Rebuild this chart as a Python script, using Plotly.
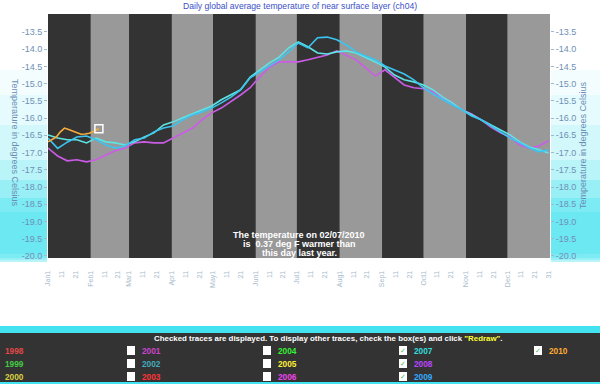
import plotly.graph_objects as go

# ---------------- data ----------------
days = list(range(0, 365, 7))  # day of year (0 = Jan 1)

t2007 = [-16.49, -16.58, -16.63, -16.63, -16.72, -16.58, -16.69, -16.72, -16.78, -16.69,
         -16.55, -16.43, -16.20, -16.11, -15.99, -15.88, -15.76, -15.65, -15.47, -15.33,
         -15.18, -14.81, -14.60, -14.40, -14.23, -13.96, -13.79, -13.93, -14.11, -14.14,
         -14.08, -14.05, -14.11, -14.23, -14.37, -14.52, -14.75, -14.89, -14.95, -15.04,
         -15.18, -15.39, -15.56, -15.76, -15.91, -16.05, -16.20, -16.34, -16.49, -16.69,
         -16.84, -16.92, -17.01]

t2008 = [-16.87, -17.10, -17.24, -17.21, -17.27, -17.21, -17.07, -16.95, -16.87, -16.72,
         -16.69, -16.72, -16.72, -16.58, -16.43, -16.29, -16.05, -15.85, -15.71, -15.53,
         -15.33, -15.12, -14.80, -14.52, -14.37, -14.37, -14.37, -14.31, -14.25, -14.17,
         -14.05, -14.17, -14.31, -14.54, -14.78, -14.60, -14.83, -15.04, -15.12, -15.15,
         -15.24, -15.42, -15.59, -15.76, -15.88, -16.05, -16.26, -16.43, -16.55, -16.78,
         -16.87, -16.81, -16.66]

t2009 = [-16.58, -16.88, -16.70, -16.55, -16.52, -16.63, -16.78, -16.87, -16.81, -16.63,
         -16.58, -16.40, -16.29, -16.23, -16.05, -15.91, -15.82, -15.71, -15.56, -15.39,
         -15.18, -14.83, -14.66, -14.49, -14.31, -14.08, -13.82, -13.96, -13.67, -13.65,
         -13.73, -13.88, -14.08, -14.20, -14.31, -14.49, -14.60, -14.72, -14.89, -15.12,
         -15.30, -15.47, -15.62, -15.76, -15.94, -16.05, -16.23, -16.40, -16.58, -16.72,
         -16.87, -16.98, -16.92]

days2010 = [0, 3, 6, 9, 12, 15, 18, 21, 24, 27, 30, 33, 37]
t2010 = [-16.69, -16.62, -16.55, -16.40, -16.29, -16.33, -16.38, -16.44, -16.47, -16.46,
         -16.44, -16.39, -16.31]

month_names = ["Jan", "Feb", "Mar", "Apr", "May", "Jun", "Jul", "Aug", "Sep", "Oct", "Nov", "Dec"]
month_lengths = [31, 28, 31, 30, 31, 30, 31, 31, 30, 31, 30, 31]

y_ticks = [-20.0, -19.5, -19.0, -18.5, -18.0, -17.5, -17.0, -16.5, -16.0, -15.5, -15.0, -14.5, -14.0, -13.5]

message_lines = ["The temperature on 02/07/2010", "is  0.37 deg F warmer than", "this day last year."]

legend_rows = [
    ["1998", "2001", "2004", "2007", "2010"],
    ["1999", "2002", "2005", "2008", None],
    ["2000", "2003", "2006", "2009", None],
]
legend_colors = {
    "1998": "#e04848", "1999": "#44cc44", "2000": "#d8d040",
    "2001": "#cc44cc", "2002": "#44aabb", "2003": "#ff3333",
    "2004": "#33ee33", "2005": "#ffee33", "2006": "#ee44ee",
    "2007": "#33dddd", "2008": "#bb44ff", "2009": "#33aaff",
    "2010": "#ffaa33",
}
checked = {"2007", "2008", "2009", "2010"}

# ---------------- helpers (pixel -> paper) ----------------
L, R, T, B = 48, 550, 14, 258
W, H = R - L, B - T


def px(x):
    return (x - L) / W


def py(y):
    return (B - y) / H


fig = go.Figure()

line_w = 1.6
fig.add_trace(go.Scatter(x=days, y=t2008, mode="lines", line=dict(color="#cc5ce8", width=line_w), showlegend=False))
fig.add_trace(go.Scatter(x=days, y=t2007, mode="lines", line=dict(color="#5ee4e4", width=line_w), showlegend=False))
fig.add_trace(go.Scatter(x=days, y=t2009, mode="lines", line=dict(color="#3cc4f0", width=line_w), showlegend=False))
fig.add_trace(go.Scatter(x=days2010, y=t2010, mode="lines", line=dict(color="#f7ad3c", width=line_w), showlegend=False))
fig.add_trace(go.Scatter(x=[days2010[-1]], y=[t2010[-1]], mode="markers", yaxis="y2",
                         marker=dict(symbol="square-open", size=8, color="white", line=dict(width=1.5, color="white")),
                         showlegend=False))

shapes = []
# month bands
start = 0
for i, ml in enumerate(month_lengths):
    shapes.append(dict(type="rect", xref="x", yref="paper", x0=start, x1=start + ml, y0=0, y1=1,
                       fillcolor="#333333" if i % 2 == 0 else "#999999", line=dict(width=0), layer="below"))
    start += ml


def glow(x0, x1, y0, y1, a):
    shapes.append(dict(type="rect", xref="paper", yref="paper", x0=px(x0), x1=px(x1), y0=py(y1), y1=py(y0),
                       fillcolor="rgba(60,225,240,%.3f)" % a, line=dict(width=0), layer="below"))


for (a, b) in [(0, 47), (551, 600)]:
    glow(a, b, 70, 262, 0.06)
    glow(a, b, 95, 262, 0.08)
    glow(a, b, 125, 262, 0.10)
    glow(a, b, 160, 262, 0.18)
    glow(a, b, 180, 260, 0.25)
    glow(a, b, 198, 258, 0.30)
    glow(a, b, 212, 254, 0.25)

# bottom panel
shapes.append(dict(type="rect", xref="paper", yref="paper", x0=px(0), x1=px(600), y0=py(384), y1=py(326),
                   fillcolor="#42e2f0", line=dict(width=0), layer="above"))
shapes.append(dict(type="rect", xref="paper", yref="paper", x0=px(0), x1=px(600), y0=py(382), y1=py(333),
                   fillcolor="#333333", line=dict(width=0), layer="above"))

annotations = []
# title
annotations.append(dict(xref="paper", yref="paper", x=px(300), y=py(6.5), xanchor="center", yanchor="middle",
                        text="Daily global average temperature of near surface layer (ch04)", showarrow=False,
                        font=dict(family="Liberation Sans, Arial", size=8.6, color="#3a50c8")))
# axis titles
annotations.append(dict(xref="paper", yref="paper", x=px(8), y=py(143), textangle=90, showarrow=False,
                        text="Temperature in degrees Celsius",
                        font=dict(family="Liberation Sans, Arial", size=9, color="#6a8db5")))
annotations.append(dict(xref="paper", yref="paper", x=px(590), y=py(145), textangle=-90, showarrow=False,
                        text="Temperature in degrees Celsius",
                        font=dict(family="Liberation Sans, Arial", size=9, color="#6a8db5")))
# in-plot message
for k, line in enumerate(message_lines):
    annotations.append(dict(xref="paper", yref="paper", x=px(299), y=py(234.5 + 9 * k), xanchor="center",
                            yanchor="middle", showarrow=False, text=line, borderpad=0,
                            font=dict(family="Liberation Sans, Arial", size=9, color="white", weight="bold")))
# bottom header
annotations.append(dict(xref="paper", yref="paper", x=px(328), y=py(338.5), xanchor="center", yanchor="middle",
                        showarrow=False,
                        text="Checked traces are displayed. To display other traces, check the box(es) and click "
                             "<span style='color:#ffff33'>\"Redraw\"</span>.",
                        font=dict(family="Liberation Sans, Arial", size=7.9, color="white", weight="bold")))

col_label_x = [3, 140, 276, 412, 547]
row_y = [350.5, 363.5, 376.5]
for r, row in enumerate(legend_rows):
    for c, yr in enumerate(row):
        if yr is None:
            continue
        if c > 0:
            bx = col_label_x[c] - 13
            shapes.append(dict(type="rect", xref="paper", yref="paper", x0=px(bx), x1=px(bx + 8),
                               y0=py(row_y[r] + 4.5), y1=py(row_y[r] - 4.5), fillcolor="white",
                               line=dict(width=0), layer="above"))
            if yr in checked:
                annotations.append(dict(xref="paper", yref="paper", x=px(bx + 4), y=py(row_y[r]),
                                        xanchor="center", yanchor="middle", showarrow=False, text="✓",
                                        font=dict(family="DejaVu Sans", size=7, color="#55bb55")))
        annotations.append(dict(xref="paper", yref="paper", x=px(col_label_x[c]), y=py(row_y[r]),
                                xanchor="left", yanchor="middle", showarrow=False, text=yr,
                                font=dict(family="Liberation Sans, Arial", size=8.3, color=legend_colors[yr],
                                          weight="bold")))

# x ticks: 1, 11, 21 of each month, plus Dec 31
tickvals, ticktext = [], []
start = 0
for name, ml in zip(month_names, month_lengths):
    for d, lab in [(1, name + "1"), (11, "11"), (21, "21")]:
        tickvals.append(start + d - 1)
        ticktext.append(lab)
    start += ml
tickvals.append(364)
ticktext.append("31")

yr_range = [-20.06, -12.98]
ytxt = ["%.1f" % v for v in y_ticks]
axis_font = dict(family="Liberation Sans, Arial", size=9, color="#6f90b5")

fig.update_layout(
    width=600, height=384,
    margin=dict(l=L, r=600 - R, t=T, b=384 - B, pad=0),
    paper_bgcolor="white", plot_bgcolor="#333333",
    shapes=shapes, annotations=annotations,
    showlegend=False,
    xaxis=dict(range=[0, 365], tickvals=tickvals, ticktext=ticktext, tickangle=-90,
               tickfont=dict(family="Liberation Sans, Arial", size=7, color="#a8bccc"),
               ticks="outside", ticklen=9, tickcolor="rgba(0,0,0,0)",
               showgrid=False, zeroline=False, showline=False, fixedrange=True),
    yaxis=dict(range=yr_range, tickvals=y_ticks, ticktext=ytxt, tickfont=axis_font,
               ticks="outside", ticklen=3, tickcolor="#9fb8cc",
               showgrid=False, zeroline=False, showline=False),
    yaxis2=dict(range=yr_range, tickvals=y_ticks, ticktext=ytxt, tickfont=axis_font, overlaying="y",
                side="right", ticks="outside", ticklen=3, tickcolor="#9fb8cc",
                showgrid=False, zeroline=False, showline=False),
)

fig.write_html("out.html", config={"displayModeBar": False},
               post_script="document.body.style.margin='0';document.body.style.overflow='hidden';")
